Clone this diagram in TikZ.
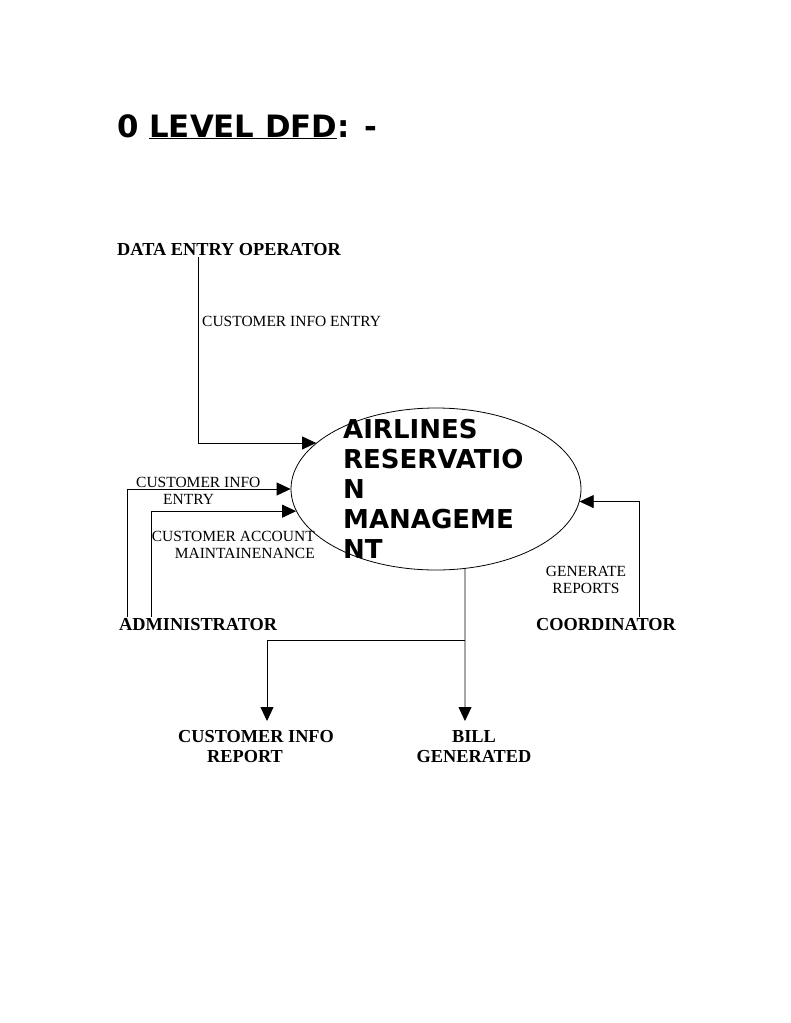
\documentclass[tikz,border=0pt]{standalone}
\usepackage{fontspec}
\setmainfont{Liberation Serif}
\newfontfamily\dejavu{DejaVu Sans}
\usetikzlibrary{arrows.meta,shapes.geometric}
\tikzset{
  entity/.style={font=\fontsize{18.3}{20}\selectfont\bfseries, inner sep=0pt},
  flowlabel/.style={font=\fontsize{15.5}{17}\selectfont, inner sep=0pt},
  flow/.style={line width=0.8pt, -{Triangle[length=14pt,width=13pt]}},
  process/.style={ellipse, draw, line width=0.8pt, minimum width=290pt, minimum height=162pt, inner sep=0pt},
}
\begin{document}
\begin{tikzpicture}[x=1pt,y=-1pt]
\useasboundingbox[fill=white] (0,0) rectangle (791,1023);
% title
\node[anchor=base west, inner sep=0pt, font=\dejavu\bfseries\fontsize{30.8}{36}\selectfont] (title) at (117,137) {0 \underline{LEVEL DFD}: -};
% process
\node[process] (p) at (436,489) {};
\node[anchor=base west, align=left, inner sep=0pt, font=\dejavu\bfseries\fontsize{26}{30}\selectfont] (ptext) at (343,558) {AIRLINES\\RESERVATIO\\N\\MANAGEME\\NT};
% entities
\node[entity, anchor=base west] (deo) at (117,255) {DATA ENTRY OPERATOR};
\node[entity, anchor=base west] (adm) at (119,630) {ADMINISTRATOR};
\node[entity, anchor=base west] (coo) at (536,630) {COORDINATOR};
\node[entity, anchor=base west, align=left] (cir) at (178,762) {CUSTOMER INFO\\\hspace*{29pt}REPORT};
\node[entity, anchor=base, align=center] (bill) at (474,762) {BILL\\GENERATED};
% flow labels
\node[flowlabel, anchor=base west] (l1) at (202,326) {CUSTOMER INFO ENTRY};
\node[flowlabel, anchor=base west, align=left] (l2) at (136,504) {CUSTOMER INFO\\\hspace*{27pt}ENTRY};
\node[flowlabel, anchor=base east, align=right] (l3) at (315,558) {CUSTOMER ACCOUNT\\MAINTAINENANCE};
\node[flowlabel, anchor=base, align=center] (l4) at (586,593) {GENERATE\\REPORTS};
% connectors
\coordinate (a1) at (198,257);
\coordinate (a2) at (127,617);
\coordinate (a3) at (151,617);
\coordinate (a4) at (639,617);
\coordinate (j) at (465,640);
\coordinate (bt) at (465,721);
\coordinate (ct) at (267,721);
\draw[flow] (a1) |- (p.159);
\draw[flow] (a2) |- (p.west);
\draw[flow] (a3) |- (p.189);
\draw[flow] (a4) |- (p.-5);
\draw[flow] (p.-70) -- (bt);
\draw[flow] (j) -| (ct);
\end{tikzpicture}
\end{document}
